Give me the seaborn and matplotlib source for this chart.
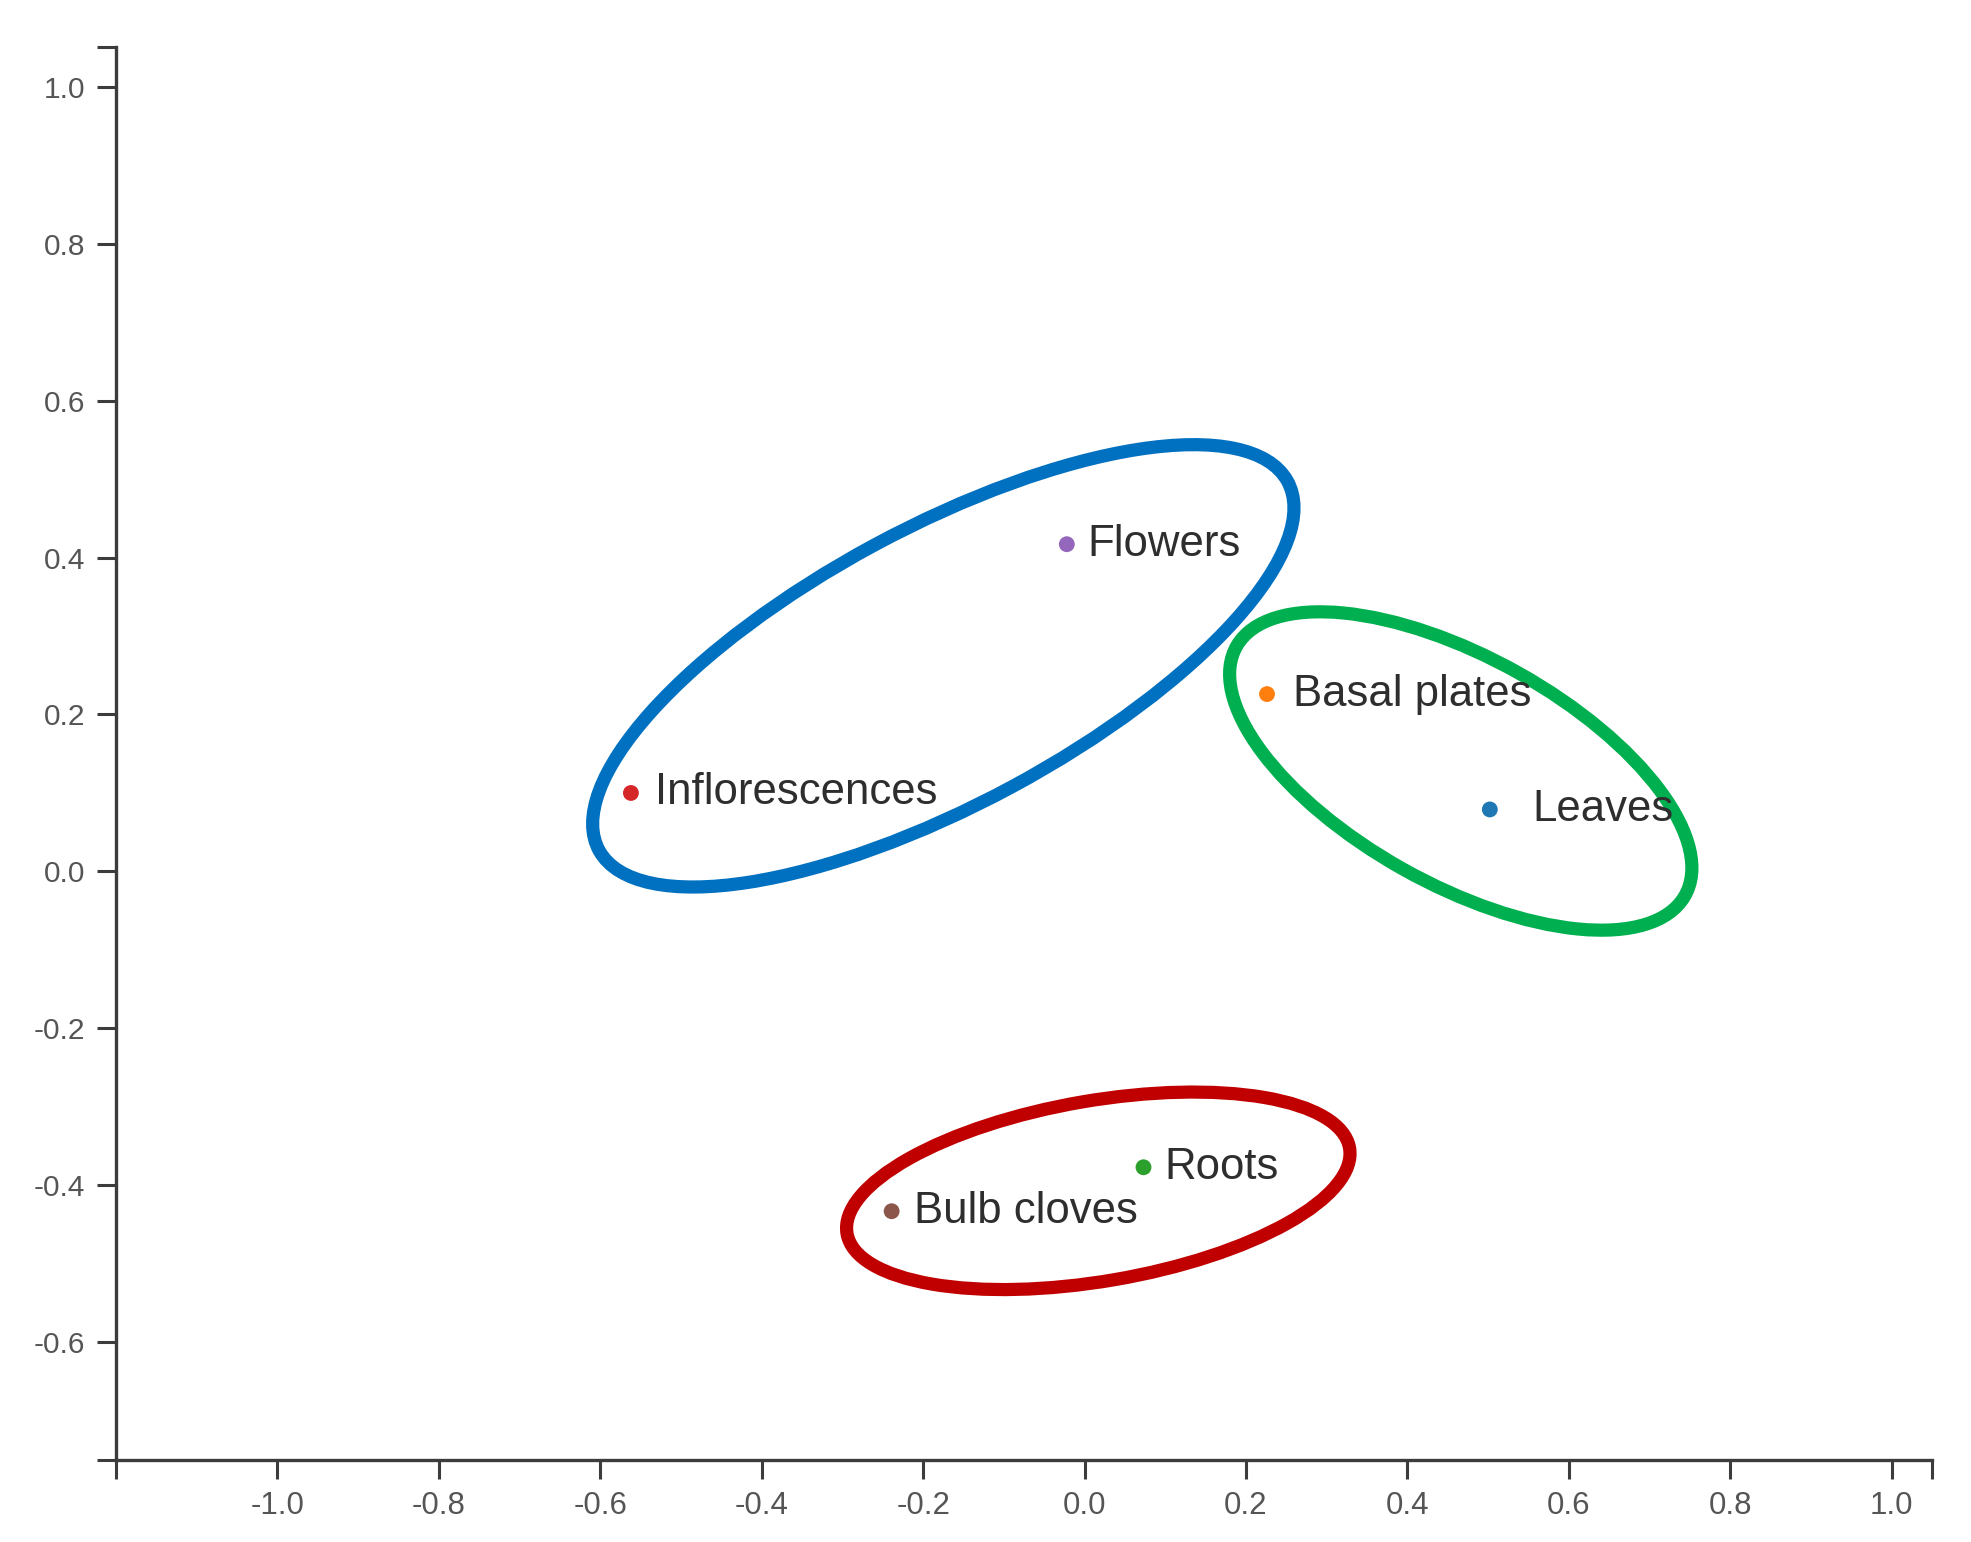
import numpy as np
import pandas as pd
import matplotlib
matplotlib.use('Agg')
import matplotlib.pyplot as plt
from matplotlib.patches import Ellipse
import seaborn as sns

# tissue coordinates
tissues = ['Leaves', 'Basal plates', 'Roots', 'Inflorescences', 'Flowers', 'Bulb cloves']
dim1 = [0.502, 0.226, 0.073, -0.562, -0.022, -0.239]
dim2 = [0.079, 0.226, -0.377, 0.100, 0.417, -0.433]

x_ticks = [-1.0, -0.8, -0.6, -0.4, -0.2, 0.0, 0.2, 0.4, 0.6, 0.8, 1.0]
y_ticks = [-0.6, -0.4, -0.2, 0.0, 0.2, 0.4, 0.6, 0.8, 1.0]

# group outlines: centre x, centre y, semi-axis a, semi-axis b, angle, colour
groups = [
    (-0.175, 0.262, 0.487, 0.176, 29, '#0070c0'),
    (0.466, 0.128, 0.320, 0.144, -30, '#00b050'),
    (0.017, -0.407, 0.316, 0.115, 10, '#c00000'),
]

df = pd.DataFrame({'tissue': tissues, 'x': dim1, 'y': dim2})
palette = dict(zip(tissues, ['#1f77b4', '#ff7f0e', '#2ca02c', '#d62728', '#9467bd', '#8c564b']))

sns.set_style('white')
plt.rcParams['font.family'] = ['Liberation Sans', 'DejaVu Sans']

fig = plt.figure(figsize=(19.71, 15.42), dpi=100)
ax = fig.add_axes([0.0588, 0.0532, 0.9215, 0.916])

sns.scatterplot(data=df, x='x', y='y', hue='tissue', palette=palette,
                s=130, edgecolor='none', legend=False, ax=ax, zorder=3)

# label offsets in points (Leaves sits a bit further from its dot)
offsets = {'Leaves': 31, 'Basal plates': 19, 'Roots': 15,
           'Inflorescences': 17, 'Flowers': 15, 'Bulb cloves': 16}
for t, xv, yv in zip(tissues, dim1, dim2):
    ax.annotate(t, (xv, yv), xytext=(offsets[t], 0), textcoords='offset points',
                ha='left', va='center', fontsize=31.5, color='#2e2e2e', zorder=4)

for cx, cy, a, b, ang, col in groups:
    ax.add_patch(Ellipse((cx, cy), 2 * a, 2 * b, angle=ang, fill=False,
                         edgecolor=col, linewidth=9.5, zorder=2))

xlim = (-1.2, 1.05)
ylim = (-0.75, 1.05)
ax.set_xlim(xlim)
ax.set_ylim(ylim)

# d3-style axes: outer ticks at both ends of each domain
ax.set_xticks([xlim[0]] + x_ticks + [xlim[1]])
ax.set_xticklabels([''] + [f'{v:.1f}' for v in x_ticks] + [''])
ax.set_yticks([ylim[0]] + y_ticks + [ylim[1]])
ax.set_yticklabels([''] + [f'{v:.1f}' for v in y_ticks] + [''])

for side in ['top', 'right']:
    ax.spines[side].set_visible(False)
for side in ['left', 'bottom']:
    ax.spines[side].set_color('#3c3c3c')
    ax.spines[side].set_linewidth(2.4)
ax.tick_params(axis='both', bottom=True, left=True, direction='out', length=14,
               width=2.2, color='#3c3c3c', labelcolor='#555555', pad=8)
ax.tick_params(axis='x', labelsize=22.5)
ax.tick_params(axis='y', labelsize=21.5)
ax.set_xlabel('')
ax.set_ylabel('')

fig.savefig('out.png', dpi=100)
